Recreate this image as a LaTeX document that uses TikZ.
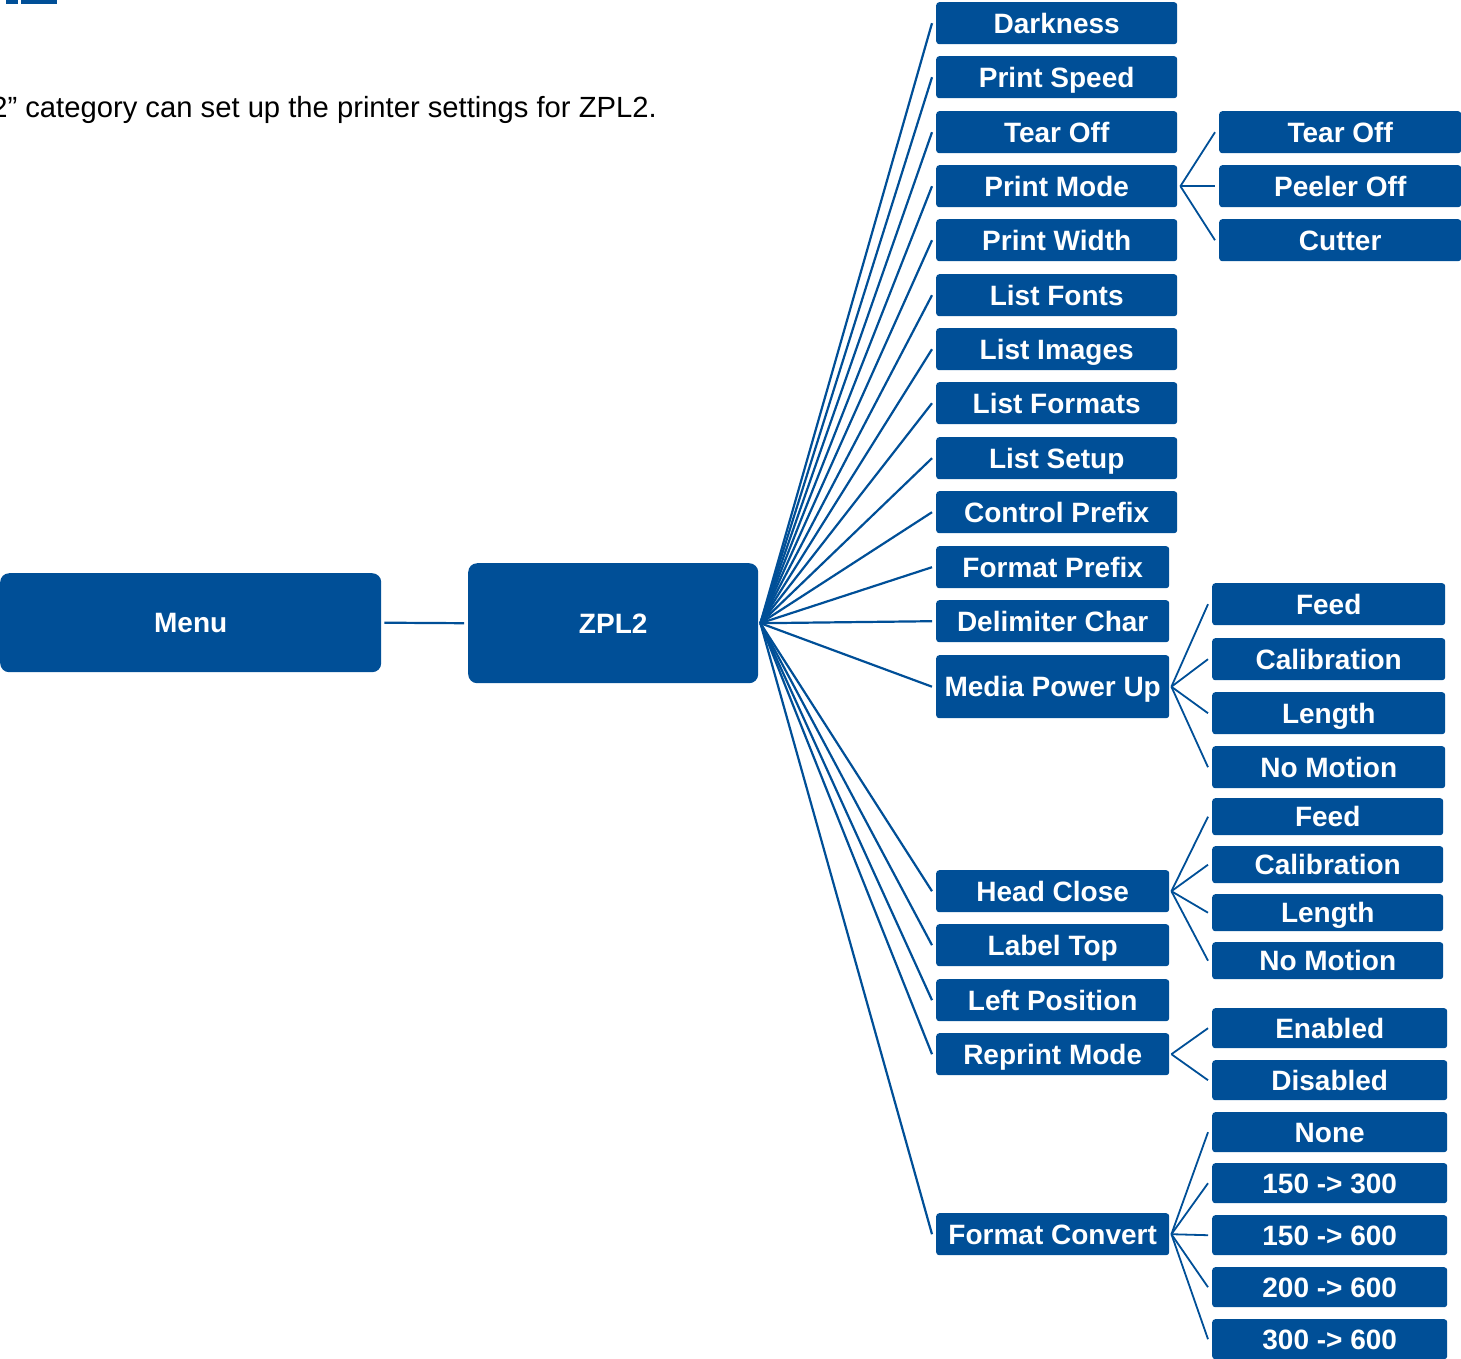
\documentclass[tikz,border=0pt]{standalone}
\usepackage{fontspec}
\setmainfont{Liberation Sans}
\definecolor{zblue}{RGB}{0,79,151}
\begin{document}
\begin{tikzpicture}[x=1pt,y=-1pt,
  box/.style={fill=zblue,draw=none,rounded corners=3pt,text=white,
    font=\fontsize{28}{30}\selectfont\bfseries,inner sep=0pt,anchor=north west,
    text height=20pt,text depth=0pt},
  bigbox/.style={box,rounded corners=9pt},
  conn/.style={draw=zblue,line width=2.2pt}]
\useasboundingbox (0,0) rectangle (1461,1358);
\clip (0,0) rectangle (1461,1358);
% heading remnant and paragraph
\fill[zblue] (6,0) rectangle (18,4);
\fill[zblue] (21,0) rectangle (57,4);
\node[anchor=base east,inner sep=0pt,font=\fontsize{29.2}{31}\selectfont] (para) at (657,117) {2” category can set up the printer settings for ZPL2.};
% main boxes
\node[bigbox,minimum width=381pt,minimum height=99pt] (menu) at (0,573) {Menu};
\node[bigbox,minimum width=290pt,minimum height=120pt] (zpl) at (468,563) {ZPL2};
\draw[conn] ([xshift=3pt]menu.east) -- ([xshift=-4pt]zpl.west);
\coordinate (zf) at ([xshift=2pt]zpl.east);
% middle column
\foreach \n/\y/\w/\h/\t in {
  dark/2/241/42/Darkness, pspeed/56/241/42/Print Speed, tear/111/241/42/Tear Off,
  pmode/165/241/42/Print Mode, pwidth/219/241/42/Print Width, lfonts/274/241/42/List Fonts,
  limages/328/241/42/List Images, lformats/382/241/42/List Formats, lsetup/437/241/42/List Setup,
  cprefix/491/241/42/Control Prefix, fprefix/546/233/42/Format Prefix, delim/600/233/42/Delimiter Char,
  media/655/233/63/Media Power Up, head/870/233/42/Head Close, ltop/924/233/42/Label Top,
  lpos/979/233/42/Left Position, reprint/1033/233/42/Reprint Mode, fconv/1213/233/42/Format Convert}
{
  \node[box,minimum width=\w pt,minimum height=\h pt] (\n) at (936,\y) {\t};
  \draw[conn] (zf) -- ([xshift=-4pt]\n.west);
}
% print mode children
\coordinate (pmf) at ([xshift=3pt]pmode.east);
\foreach \n/\y/\t in {pto/111/Tear Off, ppo/165/Peeler Off, pcu/219/Cutter}
{
  \node[box,minimum width=242pt,minimum height=42pt] (\n) at (1219,\y) {\t};
  \draw[conn,line width=1.8pt] (pmf) -- ([xshift=-4pt]\n.west);
}
% media power up children
\coordinate (mf) at ([xshift=2pt]media.east);
\foreach \n/\y/\t in {mfe/583/Feed, mca/638/Calibration, mle/692/Length, mno/746/No Motion}
{
  \node[box,minimum width=233pt,minimum height=42pt] (\n) at (1212,\y) {\t};
  \draw[conn,line width=1.8pt] (mf) -- ([xshift=-4pt]\n.west);
}
% head close children
\coordinate (hf) at ([xshift=2pt]head.east);
\foreach \n/\y/\t in {hfe/798/Feed, hca/846/Calibration, hle/894/Length, hno/942/No Motion}
{
  \node[box,minimum width=231pt,minimum height=37pt] (\n) at (1212,\y) {\t};
  \draw[conn,line width=1.8pt] (hf) -- ([xshift=-4pt]\n.west);
}
% reprint mode children
\coordinate (rf) at ([xshift=2pt]reprint.east);
\foreach \n/\y/\t in {ren/1008/Enabled, rdi/1060/Disabled}
{
  \node[box,minimum width=235pt,minimum height=40pt] (\n) at (1212,\y) {\t};
  \draw[conn,line width=1.8pt] (rf) -- ([xshift=-4pt]\n.west);
}
% format convert children
\coordinate (ff) at ([xshift=2pt]fconv.east);
\foreach \n/\y/\t in {fno/1112/None, fa/1163/150 -> 300, fb/1215/150 -> 600, fc/1267/200 -> 600, fd/1319/300 -> 600}
{
  \node[box,minimum width=235pt,minimum height=40pt] (\n) at (1212,\y) {\t};
  \draw[conn,line width=1.8pt] (ff) -- ([xshift=-4pt]\n.west);
}
\end{tikzpicture}
\end{document}
